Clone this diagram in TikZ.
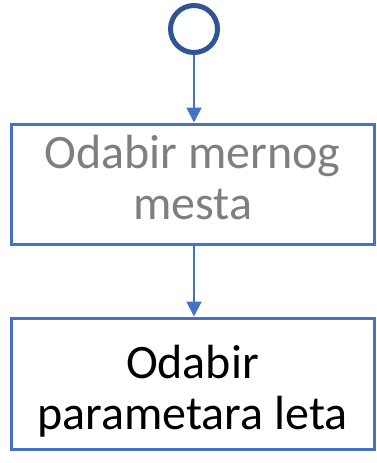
\documentclass[tikz,border=0pt]{standalone}
\usepackage{fontspec}
\setmainfont{Carlito}
\usetikzlibrary{arrows.meta}
\definecolor{flowblue}{HTML}{4472C4}
\definecolor{startblue}{HTML}{2F5597}
\definecolor{textgray}{HTML}{7F7F7F}
\begin{document}
\begin{tikzpicture}[
  x=1pt,y=-1pt,
  step box/.style={draw=flowblue,line width=3pt,fill=white,minimum width=363pt},
  step text/.style={align=center,inner sep=0pt,font=\fontsize{48}{51}\selectfont},
  flow/.style={-{Triangle[length=15pt,width=15pt]},flowblue,line width=2pt},
]
\useasboundingbox (0,0) rectangle (377,463);
% start point
\node[circle,draw=startblue,line width=5pt,fill=white,minimum size=47pt,inner sep=0pt] (start) at (194,29) {};
% steps
\node[step box,minimum height=120pt] (mesto) at (192.5,184) {};
\node[step text,text=textgray] (mesto txt) at ([yshift=6.5pt]mesto.center) {Odabir mernog\\mesta};
\node[step box,minimum height=131pt] (param) at (192.5,383.5) {};
\node[step text] (param txt) at ([yshift=-7.5pt]param.center) {Odabir\\parametara leta};
% connectors
\draw[flow] (start.south) -- (start.south|-mesto.north);
\draw[flow] (mesto.south-|start) -- (start|-param.north);
\end{tikzpicture}
\end{document}
